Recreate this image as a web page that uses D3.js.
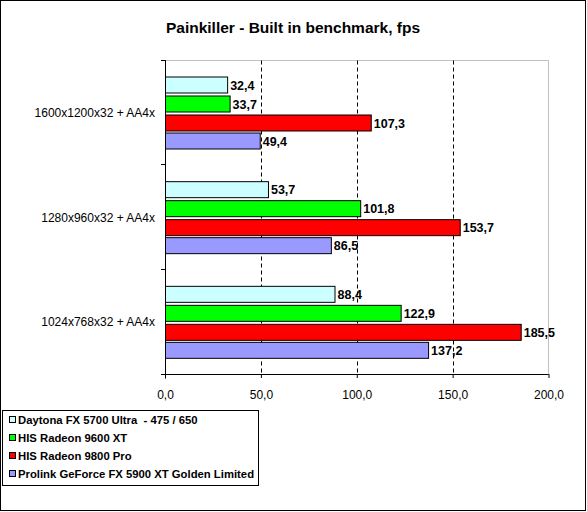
<!DOCTYPE html>
<html>
<head>
<meta charset="utf-8">
<script src="https://cdn.jsdelivr.net/npm/d3@7"></script>
<style>
  body { margin: 0; background: #fff; }
  svg { display: block; font-family: "Liberation Sans", Arial, sans-serif; }
  text { white-space: pre; }
</style>
</head>
<body>
<svg id="chart" width="587" height="512"></svg>
<script>
// data
var categories = ["1600x1200x32 + AA4x", "1280x960x32 + AA4x", "1024x768x32 + AA4x"];
var seriesNames = [
  "Daytona FX 5700 Ultra  - 475 / 650",
  "HIS Radeon 9600 XT",
  "HIS Radeon 9800 Pro",
  "Prolink GeForce FX 5900 XT Golden Limited"
];
var daytona = [32.4, 53.7, 88.4];
var his9600 = [33.7, 101.8, 122.9];
var his9800 = [107.3, 153.7, 185.5];
var prolink = [49.4, 86.5, 137.2];
var xTicks = [0, 50, 100, 150, 200];
var colors = ["#ccffff", "#00ff00", "#ff0000", "#9999ff"];

var series = [daytona, his9600, his9800, prolink];

var svg = d3.select("#chart");
var pLeft = 165, pRight = 548.5, pTop = 60.5, pBottom = 374.5;

var ru = d3.formatLocale({ decimal: ",", thousands: ".", grouping: [3], currency: ["", ""] });
var fmt = ru.format(".1f");

var x = d3.scaleLinear().domain([0, 200]).range([pLeft, pRight]);
var y0 = d3.scaleBand().domain(categories).range([pTop, pBottom]);
var y1 = d3.scaleBand().domain(d3.range(seriesNames.length))
  .range([0, y0.bandwidth()]).paddingInner(0.144).paddingOuter(0.87);

// outer frame
svg.append("rect")
  .attr("x", 0.5).attr("y", 0.5).attr("width", 585).attr("height", 510)
  .attr("fill", "#fff").attr("stroke", "#000");

svg.append("text")
  .attr("x", 293).attr("y", 33)
  .attr("text-anchor", "middle")
  .style("font-size", "15.5px").style("font-weight", "bold")
  .text("Painkiller - Built in benchmark, fps");

// plot border (grey top and right)
svg.append("path")
  .attr("d", "M" + pLeft + "," + pTop + "H" + pRight + "V" + pBottom)
  .attr("fill", "none").attr("stroke", "#c0c0c0");

// dashed grid
svg.selectAll(".grid")
  .data(xTicks.filter(function(d) { return d > 0 && d < 200; }))
  .enter().append("line")
  .attr("x1", function(d) { return Math.round(x(d)) + 0.5; })
  .attr("x2", function(d) { return Math.round(x(d)) + 0.5; })
  .attr("y1", pTop).attr("y2", pBottom)
  .attr("stroke", "#000").attr("stroke-dasharray", "4,3");

// bars
var groups = svg.selectAll(".grp")
  .data(categories)
  .enter().append("g")
  .attr("transform", function(d) { return "translate(0," + y0(d) + ")"; });

groups.each(function(c, ci) {
  var g = d3.select(this);
  series.forEach(function(vals, si) {
    var by = Math.round(y1(si)) + 0.5;
    g.append("rect")
      .attr("x", x(0) + 0.5)
      .attr("y", by)
      .attr("width", x(vals[ci]) - x(0))
      .attr("height", Math.round(y1.bandwidth()))
      .attr("fill", colors[si])
      .attr("stroke", "#000");
    g.append("text")
      .attr("x", x(vals[ci]) + 3)
      .attr("y", by + y1.bandwidth() / 2 + 4.5)
      .style("font-size", "12.5px").style("font-weight", "bold")
      .text(fmt(vals[ci]));
  });
});

// x axis
var xAxis = d3.axisBottom(x).tickValues(xTicks).tickSize(4).tickFormat(fmt);
var gx = svg.append("g").attr("transform", "translate(0," + (pBottom - 0.5) + ")").call(xAxis);
gx.select(".domain").attr("d", "M" + pLeft + ",0.5H" + pRight);
gx.selectAll(".tick line").attr("stroke", "#000");
gx.selectAll("text").attr("y", 16).attr("fill", "#000")
  .style("font-size", "12px").style("font-family", "Liberation Sans, Arial, sans-serif");

// y axis: ticks at band boundaries, labels centred
svg.append("line")
  .attr("x1", pLeft + 0.5).attr("x2", pLeft + 0.5)
  .attr("y1", pTop - 0.5).attr("y2", pBottom + 4)
  .attr("stroke", "#000");
var bounds = categories.map(function(c) { return y0(c); }).concat([pBottom]);
svg.selectAll(".ytick").data(bounds).enter().append("line")
  .attr("x1", pLeft - 4).attr("x2", pLeft + 0.5)
  .attr("y1", function(d) { return Math.round(d) - 0.5; })
  .attr("y2", function(d) { return Math.round(d) - 0.5; })
  .attr("stroke", "#000");
svg.selectAll(".ylab").data(categories).enter().append("text")
  .attr("x", 155)
  .attr("y", function(d) { return y0(d) + y0.bandwidth() / 2 + 4; })
  .attr("text-anchor", "end")
  .style("font-size", "12px")
  .text(function(d) { return d; });

// legend
var lg = svg.append("g");
lg.append("rect")
  .attr("x", 2.5).attr("y", 410.5).attr("width", 256).attr("height", 75)
  .attr("fill", "#fff").attr("stroke", "#000");
var items = lg.selectAll(".item").data(seriesNames).enter().append("g")
  .attr("transform", function(d, i) { return "translate(0," + (416 + i * 18) + ")"; });
items.append("rect")
  .attr("x", 9.5).attr("y", 0.5).attr("width", 6).attr("height", 6)
  .attr("fill", function(d, i) { return colors[i]; })
  .attr("stroke", "#000");
items.append("text")
  .attr("x", 18).attr("y", 8)
  .style("font-size", "11.3px").style("font-weight", "bold")
  .text(function(d) { return d; });
</script>
</body>
</html>
